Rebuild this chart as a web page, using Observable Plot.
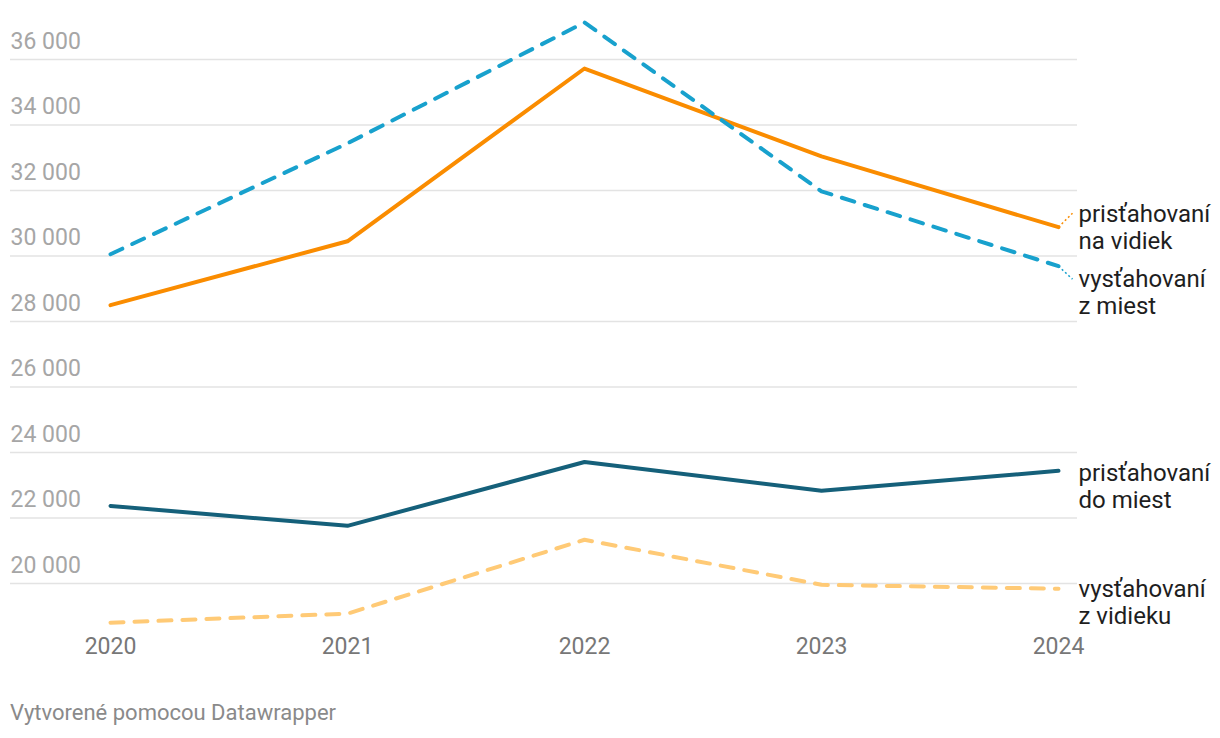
<!DOCTYPE html>
<html><head><meta charset="utf-8">
<script src="https://cdn.jsdelivr.net/npm/d3@7"></script>
<script src="https://cdn.jsdelivr.net/npm/@observablehq/plot@0.6"></script>
<style>
body{margin:0;background:#fff;font-family:Roboto,sans-serif;}
#chart{position:absolute;left:0;top:0;}
#caption{position:absolute;left:10px;top:700px;font-size:22px;color:#8a8a8a;font-family:Roboto,sans-serif;}
</style></head><body>
<div id="chart"></div>
<div id="caption">Vytvorené pomocou Datawrapper</div>
<script>
const years = [2020, 2021, 2022, 2023, 2024];
const prisNaVidiek = [28500, 30450, 35725, 33040, 30880];
const vystZMiest = [30055, 33440, 37130, 31975, 29690];
const prisDoMiest = [22370, 21760, 23710, 22830, 23440];
const vystZVidieku = [18805, 19080, 21335, 19960, 19840];
const yTicks = [20000, 22000, 24000, 26000, 28000, 30000, 32000, 34000, 36000];
const seriesLabels = ["prisťahovaní\nna vidiek", "vysťahovaní\nz miest", "prisťahovaní\ndo miest", "vysťahovaní\nz vidieku"];

const W = 1220, H = 680;
const mL = 10, mR = 143, mT = 26.25, mB = 31.5;
const inL = 100, inR = 19;
const yDomain = [18000, 37000];

const fmt = d => String(d).replace(/\B(?=(\d{3})+$)/g, " ");
const rows = (vals) => years.map((x, i) => ({x, y: vals[i]}));

const series = [
  {vals: vystZVidieku, label: seriesLabels[3], color: "#ffca76", dash: "13,11", dy: 13, conn: 0},
  {vals: prisDoMiest, label: seriesLabels[2], color: "#15607a", dash: null, dy: 15, conn: 0},
  {vals: prisNaVidiek, label: seriesLabels[0], color: "#fa8c00", dash: null, dy: 0, conn: 14},
  {vals: vystZMiest, label: seriesLabels[1], color: "#18a1cd", dash: "13,11", dy: 26, conn: -13}
];

const pxPerYear = (W - mL - mR - inL - inR) / (years.length - 1);
const unitsPerPx = (yDomain[1] - yDomain[0]) / (H - mT - mB);

const marks = [
  Plot.ruleY(yTicks, {stroke: "#e3e3e3", strokeWidth: 1.4}),
  Plot.axisY({ticks: yTicks, tickSize: 0, tickPadding: 0, textAnchor: "start", dy: -18, fill: "#a6a6a6", fontSize: 23, tickFormat: fmt, label: null}),
  Plot.axisX({ticks: years, tickSize: 0, tickPadding: 0, dy: -11, fill: "#777", fontSize: 23, tickFormat: d => String(d), label: null})
];

for (const s of series) {
  const data = rows(s.vals);
  marks.push(Plot.line(data, {x: "x", y: "y", stroke: s.color, strokeWidth: 4, strokeDasharray: s.dash || undefined, strokeLinecap: "round", strokeLinejoin: "round"}));
}
for (const s of series) {
  const last = {x: years[years.length - 1], y: s.vals[s.vals.length - 1]};
  if (s.conn) {
    marks.push(Plot.link([last], {
      x1: "x", y1: "y",
      x2: d => d.x + 14 / pxPerYear,
      y2: d => d.y + s.conn * unitsPerPx,
      stroke: s.color, strokeWidth: 1.5, strokeDasharray: "2,2.5"
    }));
  }
  marks.push(Plot.text([last], {x: "x", y: "y", text: () => s.label, dx: 20, dy: s.dy, textAnchor: "start", lineAnchor: "middle", fontSize: 24, lineHeight: 1.13, fill: "#1e1e1e"}));
}

const chart = Plot.plot({
  width: W, height: H,
  marginLeft: mL, marginRight: mR, marginTop: mT, marginBottom: mB,
  style: {fontFamily: "Roboto, sans-serif", background: "#fff", overflow: "visible"},
  x: {domain: [years[0], years[years.length - 1]], insetLeft: inL, insetRight: inR},
  y: {domain: yDomain},
  marks
});
document.getElementById("chart").append(chart);
</script>
</body></html>
